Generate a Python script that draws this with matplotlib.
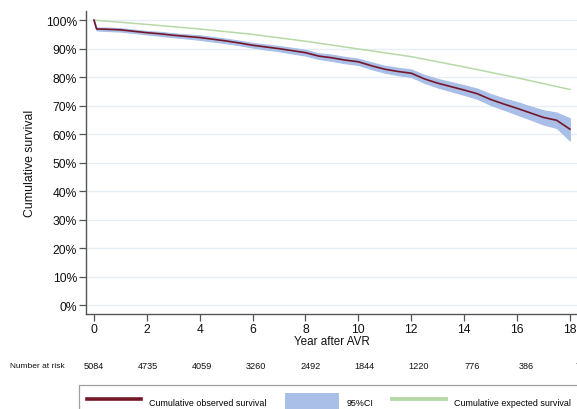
import matplotlib
matplotlib.use("Agg")
import matplotlib.pyplot as plt
from matplotlib.lines import Line2D
from matplotlib.patches import Patch
from matplotlib import transforms

plt.rcParams["font.family"] = ["Liberation Sans", "DejaVu Sans"]

# ── Data ──────────────────────────────────────────────────────────────────────
obs_years = [0, 0.1, 0.5, 1, 1.5, 2, 2.5, 3, 3.5, 4, 4.5, 5, 5.5, 6, 6.5, 7,
             7.5, 8, 8.5, 9, 9.5, 10, 10.5, 11, 11.5, 12, 12.5, 13, 13.5, 14,
             14.5, 15, 15.5, 16, 16.5, 17, 17.5, 18]
obs_surv = [100, 96.9, 96.8, 96.6, 96.1, 95.6, 95.2, 94.7, 94.3, 93.9, 93.3,
            92.7, 92.0, 91.2, 90.6, 90.0, 89.3, 88.6, 87.4, 86.8, 86.0, 85.4,
            84.0, 82.8, 82.0, 81.4, 79.4, 77.9, 76.7, 75.5, 74.2, 72.2, 70.6,
            69.1, 67.5, 65.9, 64.9, 61.8]
ci_lower = [100, 96.4, 96.2, 96.0, 95.5, 95.0, 94.5, 94.0, 93.6, 93.1, 92.5,
            91.9, 91.2, 90.4, 89.7, 89.1, 88.3, 87.6, 86.4, 85.7, 84.9, 84.3,
            82.8, 81.6, 80.7, 80.1, 78.0, 76.4, 75.1, 73.8, 72.4, 70.3, 68.6,
            66.9, 65.2, 63.4, 62.2, 57.8]
ci_upper = [100, 97.4, 97.4, 97.2, 96.7, 96.2, 95.9, 95.4, 95.0, 94.7, 94.1,
            93.5, 92.8, 92.0, 91.5, 90.9, 90.3, 89.6, 88.4, 87.9, 87.1, 86.5,
            85.2, 84.0, 83.3, 82.7, 80.8, 79.4, 78.3, 77.2, 76.0, 74.1, 72.6,
            71.3, 69.8, 68.4, 67.6, 65.6]

exp_years = [0, 2, 4, 6, 8, 10, 12, 14, 16, 18]
exp_surv = [100, 98.5, 96.9, 95.0, 92.6, 89.9, 87.2, 83.6, 79.8, 75.7]

risk_years = [0, 2, 4, 6, 8, 10, 12, 14, 16, 18]
risk_counts = [5084, 4735, 4059, 3260, 2492, 1844, 1220, 776, 386, 79]

y_ticks = list(range(0, 101, 10))

# ── Colours ───────────────────────────────────────────────────────────────────
c_obs = "#761629"
c_ci = "#a9bfe8"
c_exp = "#b7d9a6"
c_grid = "#e6edf5"
c_axis = "#555555"

W, H = 577, 410
fig = plt.figure(figsize=(W / 100, H / 100), dpi=100)
ax = fig.add_axes([86 / W, 1 - 315 / H, (W - 86) / W, (315 - 12) / H])

ax.fill_between(obs_years, ci_lower, ci_upper, color=c_ci, linewidth=0.8,
                edgecolor=c_ci, zorder=2)
ax.plot(exp_years, exp_surv, color=c_exp, linewidth=1.1, zorder=3)
ax.plot(obs_years, obs_surv, color=c_obs, linewidth=1.2, zorder=4)

ax.set_xlim(-0.3, 18.27)
ax.set_ylim(-3.0, 103.2)
ax.set_xticks(risk_years)
ax.set_yticks(y_ticks)
ax.set_yticklabels([f"{v}%" for v in y_ticks])
ax.yaxis.grid(True, color=c_grid, linewidth=1.0, zorder=0)
ax.set_axisbelow(True)

for side in ("top", "right"):
    ax.spines[side].set_visible(False)
for side in ("left", "bottom"):
    ax.spines[side].set_color(c_axis)
    ax.spines[side].set_linewidth(1.0)
ax.tick_params(axis="both", colors=c_axis, labelcolor="#111111",
               labelsize=8.7, length=5, width=0.9, pad=1.5)

ax.set_xlabel("Year after AVR", fontsize=8.4, labelpad=0, color="#111111")
ax.set_ylabel("Cumulative survival", fontsize=8.8, labelpad=7, color="#111111")

# number at risk row (the table is spaced a little wider than the axis)
row = transforms.blended_transform_factory(ax.transData, fig.transFigure)
y_row = 1 - 367 / H
risk_stretch = 1.023
for yr, n in zip(risk_years, risk_counts):
    ax.text(yr * risk_stretch, y_row, str(n), transform=row, ha="center",
            va="center", fontsize=6.6, color="#111111", clip_on=False)
fig.text(10 / W, y_row, "Number at risk", ha="left", va="center",
         fontsize=6.0, color="#111111")

# legend
handles = [
    Line2D([], [], color=c_obs, linewidth=2.6),
    Patch(facecolor=c_ci, edgecolor="none"),
    Line2D([], [], color=c_exp, linewidth=2.8),
]
labels = ["Cumulative observed survival", "95%CI", "Cumulative expected survival"]
leg = fig.legend(handles, labels, loc="upper left",
                 bbox_to_anchor=(79 / W, 1 - 386 / H), ncol=3, fontsize=6.4,
                 frameon=True, fancybox=False, edgecolor="#888888",
                 handlelength=6.1, handleheight=2.7, handletextpad=0.85,
                 columnspacing=2.1, borderpad=0.9, borderaxespad=0)
leg.get_frame().set_linewidth(0.9)

fig.savefig("out.png", dpi=100)
